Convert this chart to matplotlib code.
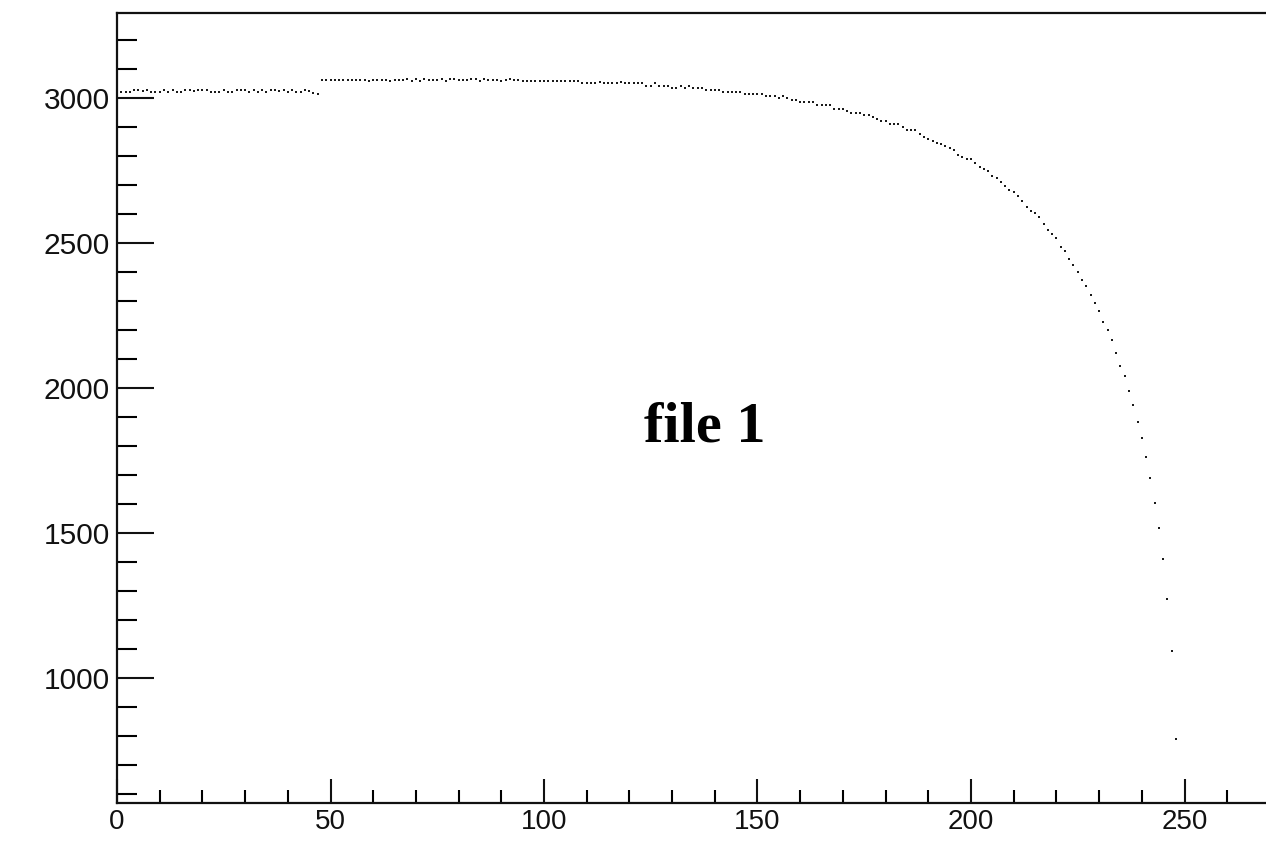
import numpy as np
import matplotlib
matplotlib.use("Agg")
import matplotlib.pyplot as plt
from matplotlib.ticker import MultipleLocator

# bin contents (one point per bin)
bins = np.arange(1, 249)

# bins 1-47
seg_a = [3020, 3019, 3020, 3026, 3026, 3025, 3026, 3020, 3020, 3019,
         3026, 3020, 3026, 3020, 3020, 3026, 3026, 3025, 3026, 3026,
         3026, 3020, 3020, 3019, 3026, 3020, 3020, 3026, 3026, 3026,
         3020, 3026, 3020, 3026, 3020, 3026, 3026, 3025, 3026, 3020,
         3026, 3020, 3020, 3026, 3025, 3016, 3013]

# bins 48-108
seg_b = [3062, 3062, 3062, 3062, 3062, 3062, 3062, 3062, 3062, 3062,
         3062, 3058, 3062, 3062, 3062, 3062, 3058, 3062, 3062, 3062,
         3066, 3059, 3065, 3059, 3066, 3061, 3061, 3061, 3065, 3059,
         3065, 3066, 3061, 3061, 3061, 3065, 3066, 3059, 3065, 3062,
         3062, 3062, 3059, 3062, 3066, 3062, 3061, 3057, 3057, 3057,
         3057, 3057, 3057, 3057, 3057, 3057, 3057, 3057, 3057, 3057,
         3057]

# bins 109-248
seg_c = [3050, 3050, 3050, 3050, 3055, 3050, 3050, 3050, 3050, 3055,
         3050, 3050, 3050, 3050, 3050, 3043, 3043, 3050, 3043, 3043,
         3043, 3036, 3036, 3043, 3036, 3043, 3036, 3036, 3036, 3028,
         3028, 3028, 3028, 3021, 3021, 3021, 3021, 3021, 3014, 3014,
         3014, 3014, 3014, 3007, 3007, 3007, 3000, 3007, 3000, 2992,
         2992, 2985, 2985, 2985, 2985, 2977, 2977, 2977, 2977, 2963,
         2963, 2963, 2956, 2948, 2948, 2948, 2941, 2941, 2934, 2927,
         2919, 2919, 2911, 2911, 2911, 2900, 2890, 2890, 2890, 2876,
         2864, 2858, 2853, 2846, 2840, 2833, 2826, 2820, 2805, 2798,
         2790, 2790, 2776, 2761, 2754, 2747, 2732, 2725, 2710, 2697,
         2683, 2675, 2661, 2646, 2624, 2610, 2602, 2589, 2567, 2545,
         2531, 2517, 2487, 2472, 2445, 2423, 2401, 2372, 2351, 2322,
         2293, 2264, 2229, 2200, 2164, 2121, 2077, 2041, 1991, 1941,
         1884, 1826, 1761, 1689, 1603, 1517, 1409, 1272, 1093, 791]

counts = np.array(seg_a + seg_b + seg_c)
label = "file 1"

plt.rcParams['font.family'] = ['Liberation Sans', 'DejaVu Sans']

fig = plt.figure(figsize=(12.66, 8.42), dpi=100)
# axes placed in figure pixels, right edge runs off the image like the original
x0, x1 = 0, 270
y0, y1 = 569, 3293
ax = fig.add_axes([117 / 1266, 39 / 842, 270 * 4.27 / 1266, 790 / 842])
ax.set_xlim(x0, x1)
ax.set_ylim(y0, y1)

ax.plot(bins, counts, ls='none', marker='s', ms=1.8, mew=0, color='#1a1a1a')

ax.text(151.8, 1814, label, ha='right', va='baseline',
        fontsize=42, fontweight='bold', family='Liberation Serif')

# ROOT style frame and ticks
for s in ['left', 'bottom', 'top']:
    ax.spines[s].set_linewidth(1.6)
    ax.spines[s].set_color('#111111')
ax.spines['right'].set_visible(False)

ax.xaxis.set_major_locator(MultipleLocator(50))
ax.xaxis.set_minor_locator(MultipleLocator(10))
ax.yaxis.set_major_locator(MultipleLocator(500))
ax.yaxis.set_minor_locator(MultipleLocator(100))

ax.tick_params(axis='x', which='major', direction='in', length=17, width=1.5,
               labelsize=20, pad=4, top=False)
ax.tick_params(axis='x', which='minor', direction='in', length=9.5, width=1.5, top=False)
ax.tick_params(axis='y', which='major', direction='in', length=26.5, width=1.5,
               labelsize=21.5, pad=5, right=False)
ax.tick_params(axis='y', which='minor', direction='in', length=14.5, width=1.5, right=False)
ax.tick_params(colors='#111111')

fig.savefig('out.png', dpi=100)
